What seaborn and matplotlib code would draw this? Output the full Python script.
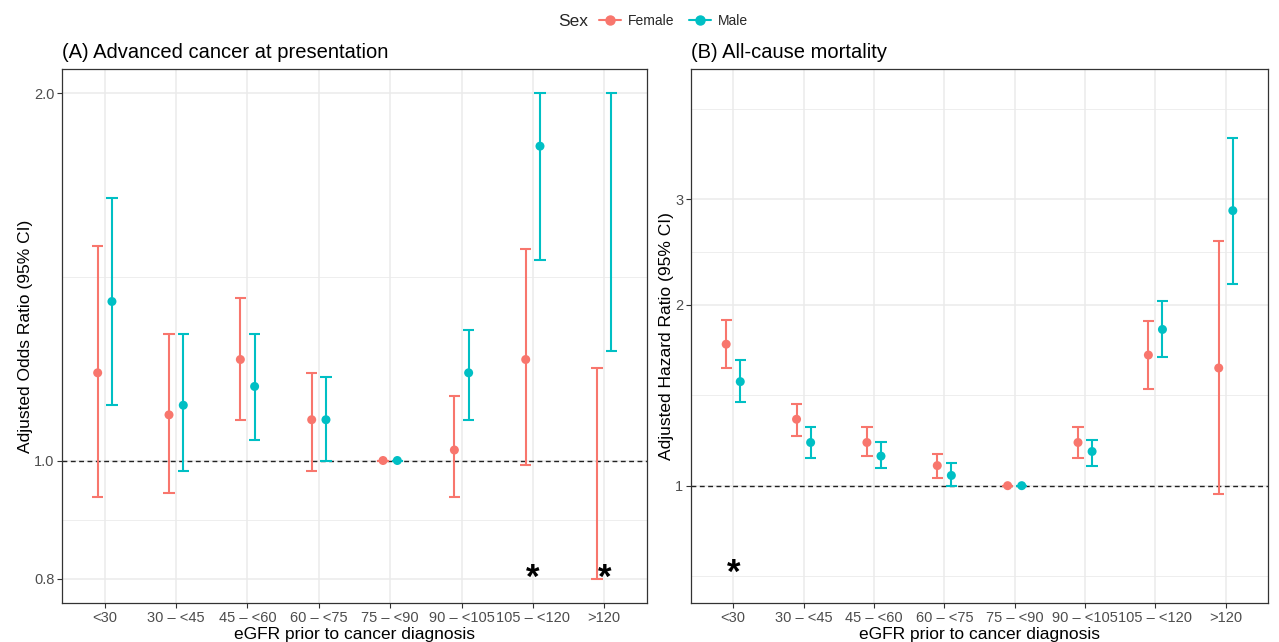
import numpy as np
import pandas as pd
import seaborn as sns
import matplotlib
matplotlib.use("Agg")
import matplotlib.pyplot as plt
from matplotlib.lines import Line2D
from matplotlib.ticker import FixedLocator, NullFormatter

categories = ["<30", "30 \u2013 <45", "45 \u2013 <60", "60 \u2013 <75", "75 \u2013 <90",
              "90 \u2013 <105", "105 \u2013 <120", ">120"]
sexes = ["Female", "Male"]
colors = {"Female": "#F8766D", "Male": "#00BFC4"}

# Panel A: Advanced cancer at presentation (odds ratios), CI squished to [0.8, 2.0]
a_f_est = [1.18, 1.09, 1.21, 1.08, 1.00, 1.02, 1.21, np.nan]
a_f_lo = [0.933, 0.940, 1.08, 0.981, 1.00, 0.933, 0.991, 0.80]
a_f_hi = [1.50, 1.27, 1.36, 1.18, 1.00, 1.13, 1.49, 1.19]
a_m_est = [1.35, 1.11, 1.15, 1.08, 1.00, 1.18, 1.81, np.nan]
a_m_lo = [1.11, 0.981, 1.04, 1.00, 1.00, 1.08, 1.46, 1.23]
a_m_hi = [1.64, 1.27, 1.27, 1.17, 1.00, 1.28, 2.00, 2.00]

# Panel B: All-cause mortality (hazard ratios)
b_f_est = [1.72, 1.29, 1.18, 1.08, 1.00, 1.18, 1.65, 1.57]
b_f_lo = [1.57, 1.21, 1.12, 1.03, 1.00, 1.11, 1.45, 0.97]
b_f_hi = [1.89, 1.37, 1.25, 1.13, 1.00, 1.25, 1.88, 2.55]
b_m_est = [1.49, 1.18, 1.12, 1.04, 1.00, 1.14, 1.82, 2.87]
b_m_lo = [1.38, 1.11, 1.07, 1.00, 1.00, 1.08, 1.64, 2.17]
b_m_hi = [1.62, 1.25, 1.18, 1.09, 1.00, 1.19, 2.03, 3.79]

a_star_cats = ["105 \u2013 <120", ">120"]
a_star_y = 0.80
b_star_cats = ["<30"]
b_star_y = 0.715

def make_df(f_est, f_lo, f_hi, m_est, m_lo, m_hi):
    rows = []
    for i, c in enumerate(categories):
        rows.append(dict(cat=c, sex="Female", est=f_est[i], lo=f_lo[i], hi=f_hi[i]))
        rows.append(dict(cat=c, sex="Male", est=m_est[i], lo=m_lo[i], hi=m_hi[i]))
    return pd.DataFrame(rows)

dfA = make_df(a_f_est, a_f_lo, a_f_hi, a_m_est, a_m_lo, a_m_hi)
dfB = make_df(b_f_est, b_f_lo, b_f_hi, b_m_est, b_m_lo, b_m_hi)

sns.set_theme(style="white")
plt.rcParams["font.family"] = ["Liberation Sans", "DejaVu Sans"]

fig = plt.figure(figsize=(12.79, 6.42), dpi=100)
H = 642.0
W = 1279.0
axA = fig.add_axes([62 / W, 1 - 603 / H, (647 - 62) / W, (603 - 69) / H])
axB = fig.add_axes([691 / W, 1 - 603 / H, (1268 - 691) / W, (603 - 69) / H])

dodge = {"Female": -0.1, "Male": 0.1}

def draw(ax, df, limits, majors, minors, title, ylabel, star_cats, star_y, fmt):
    ax.set_yscale("log")
    df = df.copy()
    df["x"] = df["cat"].map({c: i for i, c in enumerate(categories)}) + df["sex"].map(dodge)
    for m in majors:
        ax.axhline(m, color="#EBEBEB", lw=1.1, zorder=0)
    for m in minors:
        ax.axhline(m, color="#EBEBEB", lw=0.6, zorder=0)
    for i in range(len(categories)):
        ax.axvline(i, color="#EBEBEB", lw=1.1, zorder=0)
    ax.axhline(1.0, color="#222222", lw=1.0, ls=(0, (3.5, 2.5)), zorder=1)
    for s in sexes:
        d = df[df["sex"] == s]
        lo = d["lo"].values
        hi = d["hi"].values
        ax.vlines(d["x"], lo, hi, color=colors[s], lw=1.5, zorder=2)
        for yy in (lo, hi):
            ax.errorbar(d["x"], yy, xerr=0.08, fmt="none", ecolor=colors[s], elinewidth=1.5,
                        capsize=0, zorder=2)
    sns.scatterplot(data=df.dropna(subset=["est"]), x="x", y="est", hue="sex", palette=colors,
                    hue_order=sexes, s=42, edgecolor="none", legend=False, ax=ax, zorder=3)
    for c in star_cats:
        ax.text(categories.index(c), star_y, "*", ha="center", va="center", fontsize=25,
                fontweight="bold", color="black", zorder=4)
    lo, hi = np.log10(limits[0]), np.log10(limits[1])
    e = (hi - lo) * 0.05
    ax.set_ylim(10 ** (lo - e), 10 ** (hi + e))
    ax.set_xlim(-0.6, len(categories) - 0.4)
    ax.yaxis.set_major_locator(FixedLocator(majors))
    ax.yaxis.set_minor_locator(FixedLocator([]))
    ax.yaxis.set_minor_formatter(NullFormatter())
    ax.set_yticklabels([fmt % m for m in majors])
    ax.set_xticks(range(len(categories)))
    ax.set_xticklabels(categories)
    ax.tick_params(axis="both", which="major", labelsize=10.5, labelcolor="#4D4D4D",
                   color="#333333", length=3.5, width=0.8, direction="out", pad=2,
                   bottom=True, left=True)
    ax.set_xlabel("eGFR prior to cancer diagnosis", fontsize=12.5, color="black", labelpad=2)
    ax.set_ylabel(ylabel, fontsize=12.5, color="black", labelpad=1)
    ax.set_title(title, fontsize=14.5, loc="left", x=-0.0, pad=8, color="black")
    for sp in ax.spines.values():
        sp.set_visible(True)
        sp.set_color("#333333")
        sp.set_linewidth(0.9)

draw(axA, dfA, (0.8, 2.0), [0.8, 1.0, 2.0], [np.sqrt(0.8), np.sqrt(2.0)],
     "(A) Advanced cancer at presentation", "Adjusted Odds Ratio (95% CI)",
     a_star_cats, a_star_y, "%.1f")
draw(axB, dfB, (0.7, 4.5), [1, 2, 3], [np.sqrt(0.5), np.sqrt(2), np.sqrt(6), np.sqrt(18)],
     "(B) All-cause mortality", "Adjusted Hazard Ratio (95% CI)",
     b_star_cats, b_star_y, "%d")

handles = [Line2D([0], [0], color=colors[s], marker="o", lw=1.5, markersize=6.5) for s in sexes]
fig.text(558 / W, 1 - 21 / H, "Sex", fontsize=12.5, va="center", ha="left")
fig.legend(handles, sexes, loc="center left", bbox_to_anchor=(599 / W, 1 - 21 / H), ncol=2,
           frameon=False, fontsize=10, handlelength=1.6, handletextpad=0.5, columnspacing=1.0,
           borderpad=0, borderaxespad=0)

fig.savefig("out.png", dpi=100)
